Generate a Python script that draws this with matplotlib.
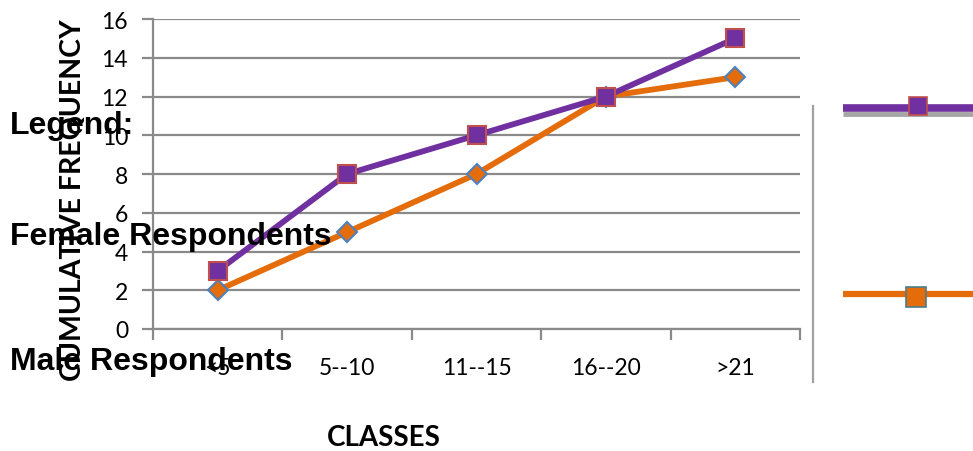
import matplotlib
matplotlib.use("Agg")
import matplotlib.pyplot as plt
from matplotlib.lines import Line2D

# Data
classes = ["<5", "5--10", "11--15", "16--20", ">21"]
female = [3, 8, 10, 12, 15]
male = [2, 5, 8, 12, 13]
y_ticks = [0, 2, 4, 6, 8, 10, 12, 14, 16]

W, H = 973, 452
DPI = 100
PURPLE = "#7030A0"
ORANGE = "#E46C0A"
GRID = "#8a8a8a"


def fx(x):
    return x / W


def fy(y):
    return 1 - y / H


fig = plt.figure(figsize=(W / DPI, H / DPI), dpi=DPI)
fig.patch.set_facecolor("white")

left, right, top, bottom = 153, 800, 20, 330
ax = fig.add_axes([fx(left), fy(bottom), (right - left) / W, (bottom - top) / H])

x = list(range(len(classes)))
ax.plot(x, male, color=ORANGE, lw=4.2, marker="D", markersize=10.5,
        markerfacecolor=ORANGE, markeredgecolor="#4F81BD", markeredgewidth=1.5,
        zorder=3, clip_on=False)
ax.plot(x, female, color=PURPLE, lw=4.2, marker="s", markersize=13,
        markerfacecolor=PURPLE, markeredgecolor="#C0504D", markeredgewidth=1.5,
        zorder=4, clip_on=False)

ax.set_xlim(-0.5, len(classes) - 0.5)
ax.set_ylim(0, 16)
ax.set_yticks(y_ticks)
ax.set_yticklabels([str(v) for v in y_ticks])
ax.yaxis.grid(True, color=GRID, lw=1.6)
ax.set_axisbelow(True)

ax.set_xticks(x)
ax.set_xticklabels(classes)
ax.set_xticks([i - 0.5 for i in range(len(classes) + 1)], minor=True)
ax.tick_params(axis="x", which="major", length=0, pad=20)
ax.tick_params(axis="x", which="minor", length=8, width=1.6, color=GRID)
ax.tick_params(axis="y", length=8, width=1.6, color=GRID, pad=10)

for lab in ax.get_xticklabels() + ax.get_yticklabels():
    lab.set_fontfamily("Lato")
    lab.set_fontsize(16.5)
    lab.set_color("black")

for side in ("top", "right"):
    ax.spines[side].set_visible(False)
for side in ("left", "bottom"):
    ax.spines[side].set_color(GRID)
    ax.spines[side].set_linewidth(1.6)

# Axis titles
fig.text(fx(73), fy(200), "CUMULATIVE FREQUENCY", rotation=90, ha="center",
         va="center", fontfamily="Lato", fontweight="bold", fontsize=20.5)
fig.text(fx(384), fy(438), "CLASSES", ha="center", va="center",
         fontfamily="Lato", fontweight="bold", fontsize=20)

# Legend block on the right
fig.add_artist(Line2D([fx(813), fx(813)], [fy(107), fy(383)], color="#a0a0a0",
                      lw=1.6, transform=fig.transFigure))
fig.add_artist(Line2D([fx(843), fx(973)], [fy(115), fy(115)], color="#A6A6A6",
                      lw=3.5, transform=fig.transFigure, solid_capstyle="butt"))
fig.add_artist(Line2D([fx(843), fx(973)], [fy(109), fy(109)], color=PURPLE,
                      lw=5.5, transform=fig.transFigure, solid_capstyle="butt"))
fig.add_artist(Line2D([fx(918)], [fy(107)], marker="s", markersize=13,
                      markerfacecolor=PURPLE, markeredgecolor="#C0504D",
                      markeredgewidth=1.2, transform=fig.transFigure))
fig.add_artist(Line2D([fx(843), fx(973)], [fy(295), fy(295)], color=ORANGE,
                      lw=4.5, transform=fig.transFigure, solid_capstyle="butt"))
fig.add_artist(Line2D([fx(916)], [fy(298)], marker="s", markersize=14,
                      markerfacecolor=ORANGE, markeredgecolor="#4A7C8C",
                      markeredgewidth=1.2, transform=fig.transFigure))

# Legend captions
cap = dict(fontfamily="Liberation Sans", fontweight="bold", fontsize=23,
           ha="left", va="baseline", color="black")
fig.text(fx(10), fy(134), "Legend:", **cap)
fig.text(fx(10), fy(245), "Female Respondents", **cap)
fig.text(fx(10), fy(370), "Male Respondents", **cap)

fig.savefig("out.png", dpi=DPI)
